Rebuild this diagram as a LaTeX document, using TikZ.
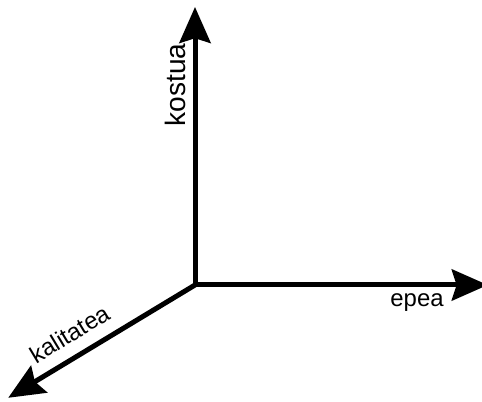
\documentclass[tikz,border=0pt]{standalone}
\usepackage{fontspec}
\setmainfont{Liberation Sans}
\usepackage{tikz}
\usetikzlibrary{arrows.meta}

\begin{document}
\begin{tikzpicture} [scale = 1, axis/.style = {line width = 0.125cm, line join = miter}, lbl/.style = {font = \fontsize{17}{19}\selectfont, inner sep = 0pt}]
	\useasboundingbox (-4.875,-2.9) rectangle (7.175,7.125);
	\tikzset{>={Stealth[length = 0.9cm, width = 0.78cm, inset = 0.12cm]}}
	\coordinate (O) at (0,0);
	\coordinate (kostuatip) at (0,6.95);
	\coordinate (epeatip) at (7.32,0);
	\coordinate (kalitateatip) at (-4.67,-2.82);
	\draw [axis, <->] (kostuatip) -- (O) -- (epeatip);
	\draw [axis, ->] (O) -- (kalitateatip);
	\node [lbl, rotate = 90, font = \fontsize{20}{22}\selectfont] (kostua) at (-0.5,5.0) {kostua};
	\node [lbl] (epea) at (5.55,-0.44) {epea};
	\node [lbl, rotate = 31] (kalitatea) at (-3.13,-1.22) {kalitatea};
\end{tikzpicture}
\end{document}
